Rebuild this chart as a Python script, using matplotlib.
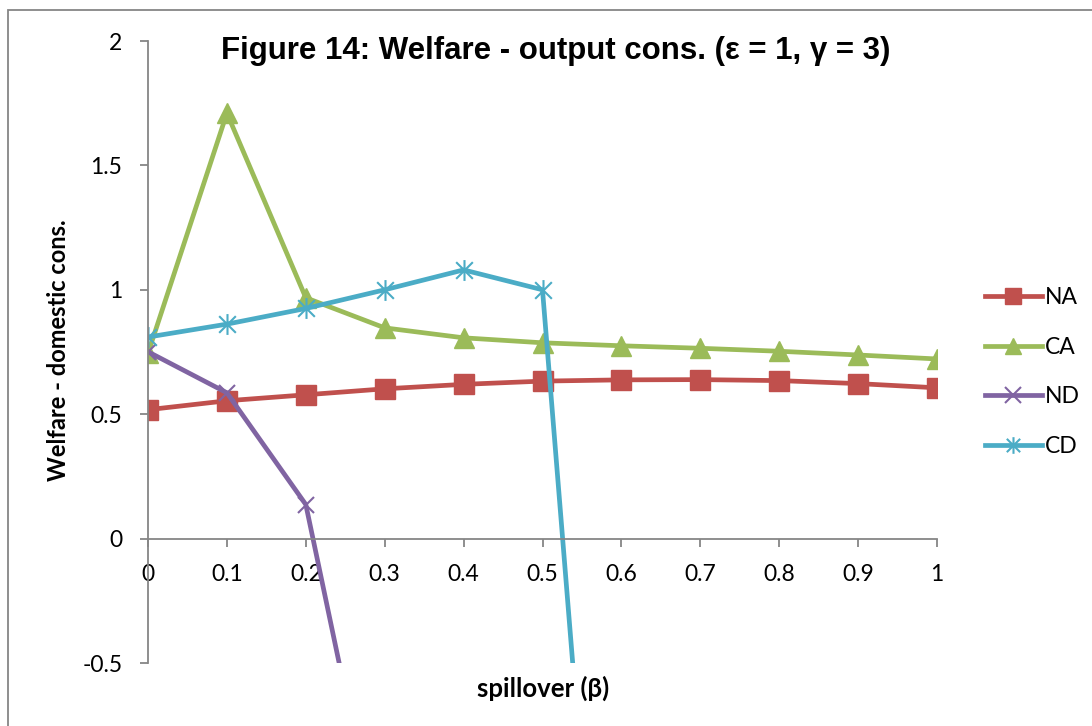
import numpy as np
import matplotlib
matplotlib.use("Agg")
import matplotlib.pyplot as plt
from matplotlib.patches import Rectangle
from matplotlib.path import Path

# spillover values
beta = [0, 0.1, 0.2, 0.3, 0.4, 0.5, 0.6, 0.7, 0.8, 0.9, 1.0]

# welfare series
na = [0.518, 0.554, 0.578, 0.602, 0.620, 0.633, 0.638, 0.639, 0.635, 0.623, 0.606]
ca = [0.745, 1.71, 0.968, 0.847, 0.807, 0.787, 0.775, 0.765, 0.753, 0.738, 0.722]
nd = [0.751, 0.586, 0.137, -1.37, np.nan, np.nan, np.nan, np.nan, np.nan, np.nan, np.nan]
cd = [0.81, 0.862, 0.925, 1.0, 1.08, 1.0, -2.92, np.nan, np.nan, np.nan, np.nan]

x_ticks = [0, 0.1, 0.2, 0.3, 0.4, 0.5, 0.6, 0.7, 0.8, 0.9, 1]
x_ticklabels = ["0", "0.1", "0.2", "0.3", "0.4", "0.5", "0.6", "0.7", "0.8", "0.9", "1"]
y_ticks = [-0.5, 0, 0.5, 1, 1.5, 2]
y_ticklabels = ["-0.5", "0", "0.5", "1", "1.5", "2"]

# Excel-style star marker: vertical bar plus an X
star = Path([(0, -1), (0, 1), (-0.8, -0.8), (0.8, 0.8), (-0.8, 0.8), (0.8, -0.8)],
            [Path.MOVETO, Path.LINETO, Path.MOVETO, Path.LINETO, Path.MOVETO, Path.LINETO])

W, H = 1092, 726
fig = plt.figure(figsize=(W / 100, H / 100), dpi=100)
ax = fig.add_axes([148 / W, 1 - 663 / H, (937 - 148) / W, (663 - 41) / H])

# outer chart border (runs off the right and bottom edges)
fig.patches.append(Rectangle((8 / W, -0.05), 1.1, 1 - 10.5 / H + 0.05,
                             transform=fig.transFigure, fill=False,
                             edgecolor="#868686", linewidth=1.3))

lw = 3.4
ax.plot(beta, na, color="#C0504D", lw=lw, marker="s", ms=14, label="NA")
ax.plot(beta, ca, color="#9BBB59", lw=lw, marker="^", ms=14, label="CA")
ax.plot(beta, nd, color="#8064A2", lw=lw, marker="x", ms=12, mew=1.5, label="ND")
ax.plot(beta, cd, color="#4BACC6", lw=lw, marker=star, ms=15, mew=1.5, label="CD")

ax.set_xlim(0, 1)
ax.set_ylim(-0.5, 2)
ax.spines["top"].set_visible(False)
ax.spines["right"].set_visible(False)
ax.spines["bottom"].set_position(("data", 0))
for s in ["left", "bottom"]:
    ax.spines[s].set_color("#868686")
    ax.spines[s].set_linewidth(1.3)

ax.set_xticks(x_ticks)
ax.set_xticklabels(x_ticklabels, fontfamily="Lato", fontsize=16.5)
ax.set_yticks(y_ticks)
ax.set_yticklabels(y_ticklabels, fontfamily="Lato", fontsize=16.5)
ax.tick_params(axis="both", direction="out", length=5.5, width=1.3, color="#868686")
ax.tick_params(axis="x", pad=13)
ax.tick_params(axis="y", pad=13)

fig.text(555.5 / W, 1 - 51 / H, "Figure 14: Welfare - output cons. (\u03b5 = 1, \u03b3 = 3)",
         fontfamily="Liberation Sans", fontweight="bold", fontsize=22.5,
         ha="center", va="center")
fig.text(543 / W, 1 - 688 / H, "spillover (\u03b2)", fontfamily="Lato",
         fontweight="bold", fontsize=18.5, ha="center", va="center")
fig.text(59 / W, 1 - 350 / H, "Welfare - domestic cons.", fontfamily="Lato",
         fontweight="bold", fontsize=17, ha="center", va="center", rotation=90)

leg = ax.legend(loc="center left", bbox_to_anchor=(964 / W, 1 - 372 / H),
                bbox_transform=fig.transFigure, frameon=False,
                prop={"family": "Lato", "size": 16.5}, handlelength=2.5,
                handletextpad=0.15, labelspacing=1.25)
for h in leg.legend_handles:
    h.set_markersize(12)

fig.savefig("out.png", dpi=100)
